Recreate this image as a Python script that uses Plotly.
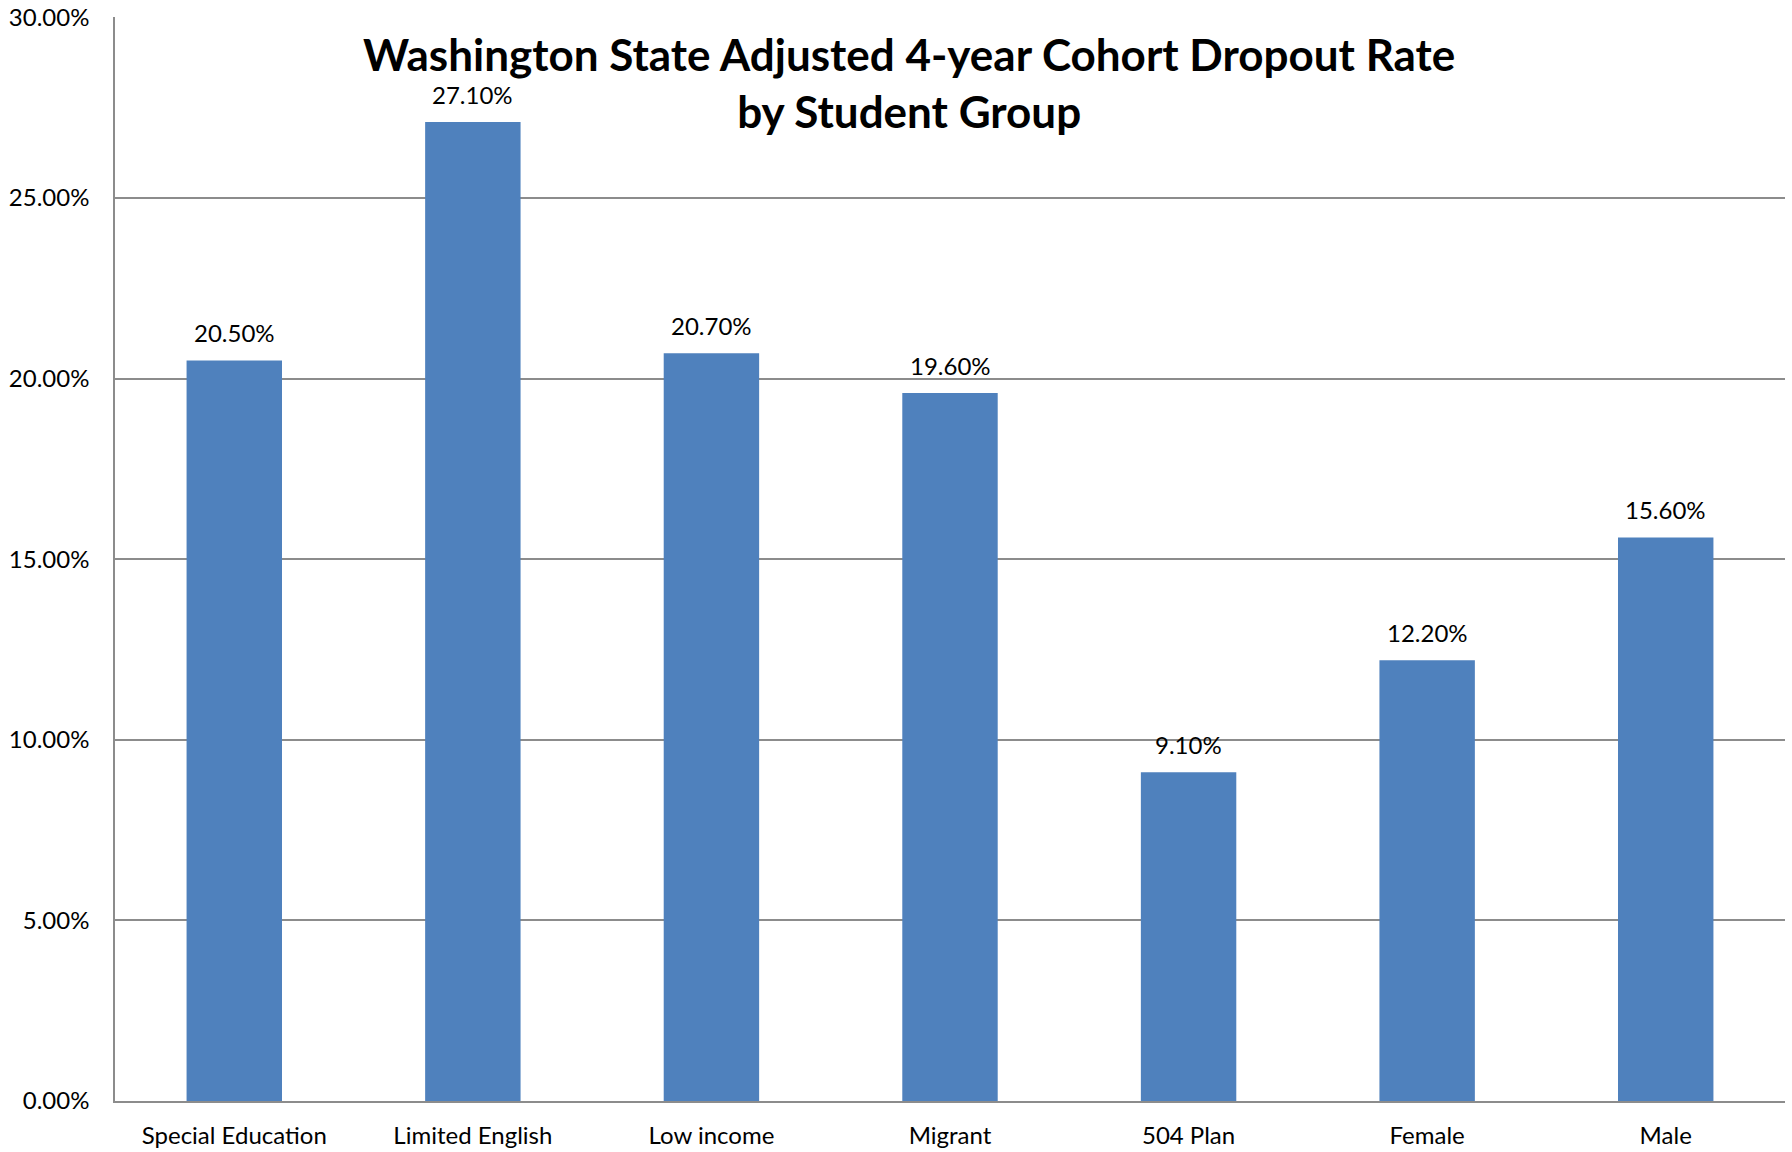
import plotly.graph_objects as go

categories = ["Special Education", "Limited English", "Low income", "Migrant",
              "504 Plan", "Female", "Male"]
dropout_rate = [20.5, 27.1, 20.7, 19.6, 9.1, 12.2, 15.6]
label_text = ["20.50%", "27.10%", "20.70%", "19.60%", "9.10%", "12.20%", "15.60%"]
y_ticks = [0, 5, 10, 15, 20, 25, 30]
y_tick_labels = ["0.00%", "5.00%", "10.00%", "15.00%", "20.00%", "25.00%", "30.00%"]
title_text = "Washington State Adjusted 4-year Cohort Dropout Rate<br>by Student Group"

FONT = "Lato"
GRID = "#8c8c8c"

fig = go.Figure()
fig.add_trace(go.Bar(
    x=categories, y=dropout_rate,
    marker=dict(color="#4F81BD", line=dict(width=0)),
    width=0.4,
    hoverinfo="skip",
))

for c, v, t in zip(categories, dropout_rate, label_text):
    fig.add_annotation(x=c, y=v, text=t, showarrow=False,
                       yanchor="middle", yshift=28,
                       font=dict(family=FONT, size=24, color="#000000"))

fig.add_annotation(
    xref="paper", yref="paper", x=(909 - 115) / 1670, y=1,
    xanchor="center", yanchor="middle", yshift=-65,
    text=title_text, showarrow=False,
    font=dict(family=FONT, size=44, color="#000000", weight="bold"),
)

fig.update_layout(
    width=1792, height=1152,
    paper_bgcolor="white", plot_bgcolor="white",
    margin=dict(l=115, r=7, t=17, b=51, autoexpand=False),
    showlegend=False,
    xaxis=dict(
        showgrid=False, showline=True, linecolor=GRID, linewidth=1.5,
        ticks="", ticklabelstandoff=12, automargin=False,
        tickfont=dict(family=FONT, size=24, color="#000000"),
        range=[-0.5, 6.5],
    ),
    yaxis=dict(
        range=[0, 30.01], tickvals=y_ticks, ticktext=y_tick_labels,
        showgrid=True, gridcolor=GRID, gridwidth=1.5,
        showline=True, linecolor=GRID, linewidth=1.5,
        zeroline=False, ticks="", ticklabelstandoff=19, automargin=False,
        tickfont=dict(family=FONT, size=24, color="#000000"),
    ),
    bargap=0.6,
)

fig.write_html("out.html",
               config={"displayModeBar": False},
               post_script="document.body.style.margin='0';document.body.style.overflow='hidden';")
